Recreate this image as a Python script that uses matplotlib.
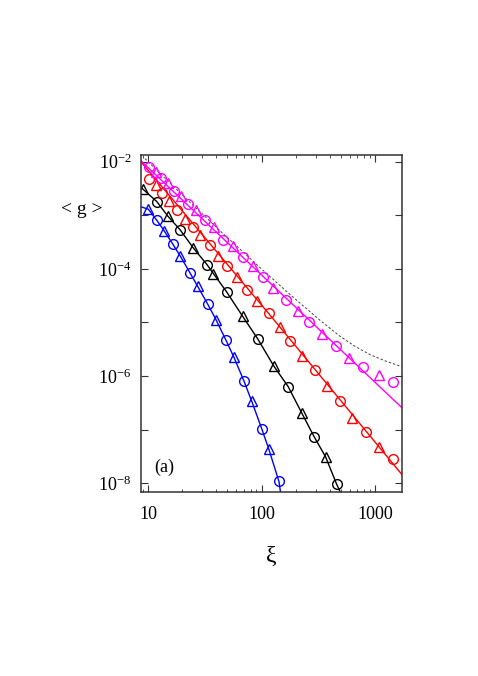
import numpy as np
import matplotlib.pyplot as plt
from matplotlib.ticker import FixedLocator, FuncFormatter, LogLocator, NullFormatter

plt.rcParams['font.family'] = ['Liberation Serif', 'DejaVu Serif']
plt.rcParams['mathtext.fontset'] = 'custom'
plt.rcParams['mathtext.rm'] = 'Liberation Serif'
plt.rcParams['mathtext.it'] = 'Liberation Serif:italic'

# blue set
blue_tri_x = [10.0, 13.8, 19.2, 27.3, 39.6, 57.0, 81.8, 116]
blue_tri_y = [1.30e-3, 5.14e-4, 1.72e-4, 4.72e-5, 1.13e-5, 2.26e-6, 3.42e-7, 4.33e-8]
blue_circ_x = [11.9, 16.4, 23.3, 33.4, 48.5, 70.0, 100.3, 142.5]
blue_circ_y = [8.05e-4, 2.94e-4, 8.5e-5, 2.22e-5, 4.68e-6, 8.07e-7, 1.05e-7, 1.08e-8]

# black set
black_tri_x = [8.93, 14.8, 24.9, 37.0, 68.0, 128.6, 225.7, 368]
black_tri_y = [3.07e-3, 9.77e-4, 2.48e-4, 8.13e-5, 1.31e-5, 1.53e-6, 2.08e-7, 3.11e-8]
black_circ_x = [11.9, 19.1, 33.0, 49.2, 92.4, 172, 292, 460]
black_circ_y = [1.80e-3, 5.36e-4, 1.20e-4, 3.72e-5, 4.97e-6, 6.35e-7, 7.33e-8, 9.66e-9]

# red set
red_circ_x = [10.1, 13.3, 17.9, 24.9, 35.0, 50.0, 75.1, 116, 179, 294, 489, 834, 1436]
red_circ_y = [4.71e-3, 2.58e-3, 1.26e-3, 6.03e-4, 2.76e-4, 1.15e-4, 4.10e-5, 1.50e-5,
              4.56e-6, 1.28e-6, 3.46e-7, 8.97e-8, 2.82e-8]
red_tri_x = [11.7, 15.2, 21.1, 28.6, 41.2, 60.3, 92.0, 145, 226, 382, 634, 1094]
red_tri_y = [3.61e-3, 1.86e-3, 8.59e-4, 4.33e-4, 1.76e-4, 7.17e-5, 2.56e-5, 8.22e-6,
             2.38e-6, 6.43e-7, 1.68e-7, 4.66e-8]

# magenta set
mag_circ_x = [10.2, 12.9, 16.9, 22.4, 31.7, 45.9, 68.1, 103.5, 163, 264, 451, 790, 1452]
mag_circ_y = [7.87e-3, 4.87e-3, 2.85e-3, 1.63e-3, 8.05e-4, 3.49e-4, 1.69e-4, 7.06e-5,
              2.67e-5, 1.01e-5, 3.65e-6, 1.47e-6, 7.73e-7]
mag_tri_x = [11.6, 14.8, 19.4, 26.6, 38.0, 55.9, 84.5, 127, 208, 339, 594, 1094]
mag_tri_y = [6.43e-3, 3.93e-3, 2.30e-3, 1.24e-3, 5.97e-4, 2.70e-4, 1.11e-4, 4.41e-5,
             1.62e-5, 5.97e-6, 2.20e-6, 1.03e-6]

# fitted curves
blue_fit_x = [8.6, 10.0, 11.9, 13.8, 16.4, 19.2, 23.3, 27.3, 33.4, 39.6, 48.5, 57.0, 70.0, 81.8, 100.3, 116, 142.5, 147]
blue_fit_y = [1.44e-3, 1.30e-3, 8.05e-4, 5.14e-4, 2.94e-4, 1.72e-4, 8.5e-5, 4.72e-5, 2.22e-5,
              1.13e-5, 4.68e-6, 2.26e-6, 8.07e-7, 3.42e-7, 1.05e-7, 4.33e-8, 1.08e-8, 6.9e-9]
black_fit_x = [8.62, 11.9, 14.8, 19.1, 24.9, 33.0, 49.2, 68.0, 92.4, 128.6, 172, 225.7, 292, 368, 460, 495]
black_fit_y = [3.31e-3, 1.80e-3, 9.77e-4, 5.36e-4, 2.48e-4, 1.20e-4, 3.72e-5, 1.31e-5, 4.97e-6,
               1.53e-6, 6.35e-7, 2.08e-7, 7.33e-8, 3.11e-8, 9.66e-9, 6.9e-9]
red_fit_x = [8.6, 116, 1725]
red_fit_y = [1.0e-2, 1.46e-5, 1.48e-8]
mag_fit_x = [8.6, 1725]
mag_fit_y = [1.04e-2, 2.6e-7]
dash_x = [9.35, 19.05, 42.9, 96.8, 178.2, 328, 492, 671, 910, 1234, 1724]
dash_y = [1.14e-2, 2.63e-3, 5.16e-4, 1.06e-4, 3.34e-5, 1.10e-5, 5.55e-6, 3.57e-6,
          2.51e-6, 1.92e-6, 1.50e-6]

fig = plt.figure(figsize=(4.78, 6.76), dpi=100)
ax = fig.add_axes([0.295, 0.2727, 0.545, 0.498])
ax.set_xscale('log')
ax.set_yscale('log')

ax.plot(dash_x, dash_y, color='#444444', lw=0.7, ls=(0, (2.5, 2)))

sets = [
    ('#0000ff', blue_fit_x, blue_fit_y, blue_circ_x, blue_circ_y, blue_tri_x, blue_tri_y),
    ('#000000', black_fit_x, black_fit_y, black_circ_x, black_circ_y, black_tri_x, black_tri_y),
    ('#ff0000', red_fit_x, red_fit_y, red_circ_x, red_circ_y, red_tri_x, red_tri_y),
    ('#ff00ff', mag_fit_x, mag_fit_y, mag_circ_x, mag_circ_y, mag_tri_x, mag_tri_y),
]
for c, fx, fy, cx, cy, tx, ty in sets:
    ax.plot(fx, fy, color=c, lw=1.0)
    ax.plot(cx, cy, 'o', ms=7, mfc='none', mec=c, mew=1.0)
    ax.plot(tx, ty, '^', ms=6.5, mfc='none', mec=c, mew=1.0)

ax.set_xlim(8.63, 1722)
ax.set_ylim(6.98e-9, 1.33e-2)

ax.xaxis.set_major_locator(FixedLocator([10, 100, 1000]))
ax.xaxis.set_minor_locator(LogLocator(base=10, subs=np.arange(2, 10), numticks=20))
ax.xaxis.set_minor_formatter(NullFormatter())
ax.xaxis.set_major_formatter(FuncFormatter(lambda v, p: '%d' % v))

ax.yaxis.set_major_locator(FixedLocator([10.0 ** k for k in range(-8, -1)]))
ax.yaxis.set_minor_locator(FixedLocator([]))


def yfmt(v, p):
    k = int(round(np.log10(v)))
    if k % 2 == 0:
        return r'$10^{%d}$' % k
    return ''


ax.yaxis.set_major_formatter(FuncFormatter(yfmt))

ax.tick_params(which='both', direction='in', top=True, right=True, labelsize=13,
               color='#333333')
ax.tick_params(axis='x', which='major', length=5, pad=10)
ax.tick_params(axis='x', which='minor', length=2.5)
ax.tick_params(axis='y', which='major', length=5, pad=7)
for s in ax.spines.values():
    s.set_linewidth(1.1)
    s.set_color('#333333')

ax.text(0.05, 0.06, '(a)', transform=ax.transAxes, fontsize=13)
fig.text(271.7 / 478, 1 - 556 / 676, 'ξ', fontsize=17, ha='center', va='center')
fig.text(82 / 478, 1 - 209 / 676, '< g >', fontsize=14, ha='center', va='center')

fig.savefig('out.png', dpi=100)
